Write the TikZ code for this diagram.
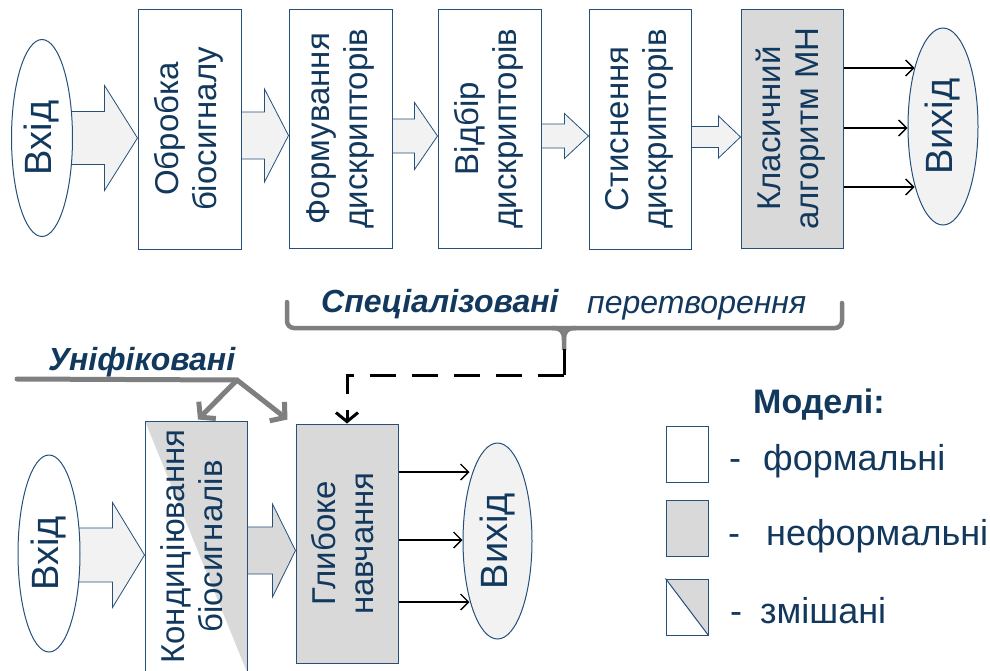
\documentclass[tikz,border=0pt]{standalone}
\usepackage{fontspec}
\setmainfont{Liberation Sans}
\usepackage{graphicx}
\usetikzlibrary{shapes.geometric,arrows.meta,calc}

\definecolor{ink}{HTML}{12395D}
\definecolor{edge}{HTML}{24507A}
\definecolor{midgray}{HTML}{D9D9D9}
\definecolor{pale}{HTML}{F2F2F2}
\definecolor{bracegray}{HTML}{7F7F7F}

\pgfdeclarelayer{background}
\pgfsetlayers{background,main}

% text set upright along a vertical box
\newcommand\vlabel[1]{\rotatebox{90}{\begin{tabular}{@{}c@{}}#1\end{tabular}}}

% wide block arrow from one node to the next
% [#1 fill] #2 source, #3 target, #4 axis offset, #5 shaft half-width, #6 head half-width, #7 head length
\newcommand\blockarrow[7][pale]{%
  \coordinate (tip) at ($(#3.west)+(0,#4)$);
  \coordinate (tail) at ($(#2.east |- tip)+(-4,0)$);
  \begin{pgfonlayer}{background}
    \fill[fill=#1] ($(tail)+(0,-#5)$) -- ($(tip)+(-#7,-#5)$) -- ($(tip)+(-#7,-#6)$) -- (tip)
      -- ($(tip)+(-#7,#6)$) -- ($(tip)+(-#7,#5)$) -- ($(tail)+(0,#5)$) -- cycle;
    \draw[flow] ($(tail)+(0,-#5)$) -- ($(tip)+(-#7,-#5)$) -- ($(tip)+(-#7,-#6)$) -- (tip)
      -- ($(tip)+(-#7,#6)$) -- ($(tip)+(-#7,#5)$) -- ($(tail)+(0,#5)$);
  \end{pgfonlayer}
}

\tikzset{
  stagebox/.style={draw=edge, line width=1pt, fill=white, inner sep=0pt, text=ink,
    font=\fontsize{33}{38}\selectfont},
  nmodel/.style={stagebox, fill=midgray},
  mixed/.style={stagebox, path picture={\fill[fill=midgray] (path picture bounding box.north west)
    -- (path picture bounding box.north east) -- (path picture bounding box.south east) -- cycle;}},
  port/.style={ellipse, draw=edge, line width=1pt, fill=white, inner sep=0pt, text=ink,
    font=\fontsize{38}{40}\selectfont},
  outport/.style={port, fill=pale},
  flow/.style={draw=edge, line width=0.8pt, line join=miter},
  feed/.style={-{Straight Barb[length=8pt,width=16pt]}, line width=1.3pt, black},
  bracestroke/.style={draw=bracegray, line width=4.5pt, line cap=round},
  unistroke/.style={draw=bracegray, line width=5pt, line cap=round},
  uniarrow/.style={unistroke, -{Straight Barb[length=10pt,width=24pt]}},
  linkstroke/.style={black, line width=3pt},
  dashlink/.style={linkstroke, dash pattern=on 26pt off 16pt, -{Straight Barb[length=9pt,width=22pt]}},
  caption/.style={text=ink, inner sep=0pt, anchor=base west},
}

\begin{document}
\begin{tikzpicture}[x=1pt, y=-1pt]
\useasboundingbox (0,0) rectangle (990,670);
\clip (0,0) rectangle (990,670);

% ---------- classical pipeline ----------
\node[port, minimum width=61, minimum height=197] (in1) at (42,138) {\rotatebox{90}{Вхід}};
\node[stagebox, minimum width=103, minimum height=240] (b1) at (189.5,129) {\vlabel{Обробка\\біосигналу}};
\node[stagebox, minimum width=103, minimum height=239] (b2) at (340.5,128.5) {\vlabel{Формування\\дискрипторів}};
\node[stagebox, minimum width=103, minimum height=239] (b3) at (489.5,128.5) {\vlabel{Відбір\\дискрипторів}};
\node[stagebox, minimum width=102, minimum height=240] (b4) at (640,129) {\vlabel{Стиснення\\дискрипторів}};
\node[nmodel, minimum width=102, minimum height=239] (b5) at (792,128.5) {\vlabel{Класичний\\алгоритм МН}};
\node[outport, minimum width=70, minimum height=197] (out1) at (943,126.5) {\rotatebox{90}{Вихід}};

\blockarrow{in1}{b1}{9}{26.5}{52.5}{33}
\blockarrow{b1}{b2}{7}{23.5}{46.5}{24}
\blockarrow{b2}{b3}{7.5}{17}{33.5}{23}
\blockarrow{b3}{b4}{7}{12}{22.5}{24}
\blockarrow{b4}{b5}{8.5}{10.5}{21}{22}

\draw[feed] ($(b5.east)+(0,-60.5)$) -- ($(out1.west)+(7,-58.5)$);
\draw[feed] ($(b5.east)+(0,-0.5)$) -- ($(out1.west)+(0,1.5)$);
\draw[feed] ($(b5.east)+(0,58.5)$) -- ($(out1.west)+(7,60.5)$);

% ---------- brace over the specialised stages ----------
\node[caption, font=\fontsize{32}{35}\selectfont\bfseries\itshape] (spec) at (321,312) {Спеціалізовані};
\node[caption, font=\fontsize{32}{35}\selectfont\itshape] (transf) at (587,313) {перетворення};
\draw[bracestroke, rounded corners=7] (287,302) -- (287,328) -- (842,328) -- (842,303);
\draw[bracestroke, line cap=butt] (552,328) .. controls (561,328) and (564,331) .. (564,340) -- (564,350);
\draw[bracestroke, line cap=butt] (576,328) .. controls (567,328) and (564,331) .. (564,340);
\coordinate (spike) at (564,349);

% ---------- deep learning pipeline ----------
\node[port, minimum width=62, minimum height=197] (in2) at (49,553.5) {\rotatebox{90}{Вхід}};
\node[mixed, minimum width=102, minimum height=251] (cond) at (196,546.5) {\vlabel{Кондиціювання\\біосигналів}};
\node[nmodel, minimum width=102, minimum height=239] (glyb) at (347,543.5) {\vlabel{Глибоке\\навчання}};
\node[outport, minimum width=69, minimum height=196] (out2) at (497.5,541) {\rotatebox{90}{Вихід}};

\blockarrow{in2}{cond}{8.5}{27}{52.5}{32}
\blockarrow[midgray]{cond}{glyb}{7}{23.5}{46.5}{23}

\draw[feed] ($(glyb.east)+(0,-71.5)$) -- ($(out2.west)+(7,-69)$);
\draw[feed] ($(glyb.east)+(0,-3.5)$) -- ($(out2.west)+(0,-1)$);
\draw[feed] ($(glyb.east)+(0,58.5)$) -- ($(out2.west)+(7,61)$);

% link from the brace to the deep learning block
\coordinate (bend) at ($(spike)+(0,26)$);
\draw[linkstroke] (spike) -- (bend);
\draw[dashlink] (bend) -| (glyb.north);

% ---------- unified stages ----------
\node[caption, font=\fontsize{32}{35}\selectfont\bfseries\itshape] (uni) at (48,370) {Уніфіковані};
\coordinate (unistart) at (17,379);
\coordinate (fork) at (237,380);
\draw[unistroke] (unistart) -- (fork);
\draw[uniarrow] (fork) -- ($(cond.north)+(2,-1)$);
\draw[uniarrow] (fork) -- ($(glyb.north west)+(-8,-4)$);

% ---------- legend ----------
\node[caption, font=\fontsize{34}{38}\selectfont\bfseries] (models) at (753,413) {Моделі:};
\node[stagebox, minimum width=42, minimum height=56] (lgA) at (687,454) {};
\node[nmodel, minimum width=42, minimum height=56] (lgB) at (687,528) {};
\node[mixed, minimum width=42, minimum height=56] (lgC) at (687,607) {};
\draw[edge, line width=1pt] (lgC.north west) -- (lgC.south east);
\node[caption, font=\fontsize{36}{40}\selectfont] (tA) at (729,470) {-\hspace{22pt}формальні};
\node[caption, font=\fontsize{36}{40}\selectfont] (tB) at (728,545) {-\hspace{26pt}неформальні};
\node[caption, font=\fontsize{36}{40}\selectfont] (tC) at (730,623) {-\hspace{18pt}змішані};
\end{tikzpicture}
\end{document}
